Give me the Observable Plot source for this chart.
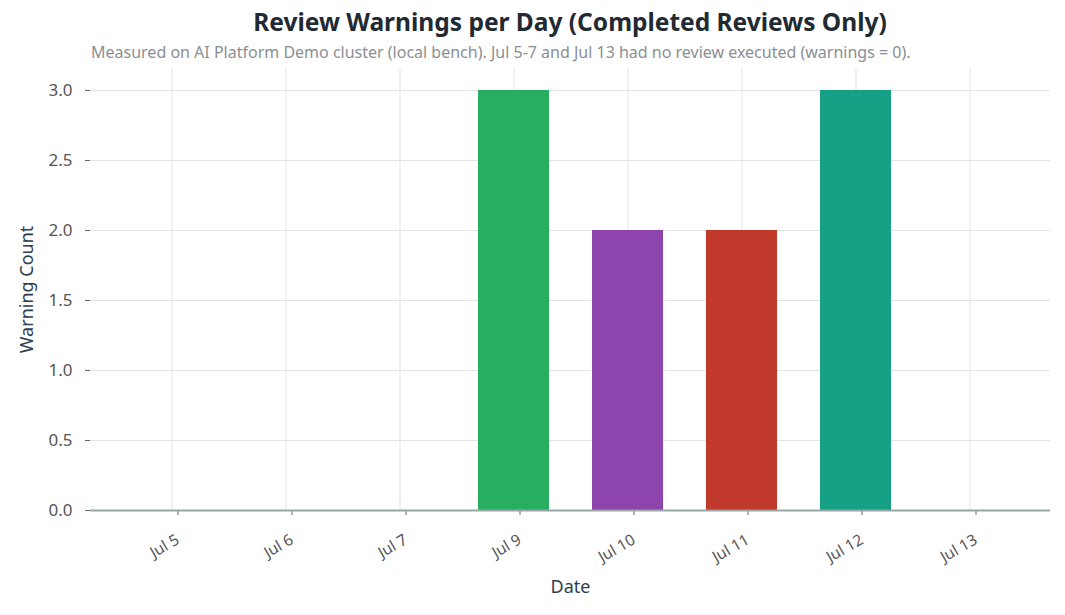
<!DOCTYPE html>
<html>
<head>
<meta charset="utf-8">
<script src="https://cdn.jsdelivr.net/npm/d3@7"></script>
<script src="https://cdn.jsdelivr.net/npm/@observablehq/plot@0.6"></script>
<style>
  html, body { margin: 0; padding: 0; background: #fff; }
  #wrap { position: relative; width: 1065px; height: 615px; font-family: "Noto Sans", sans-serif; }
  #title { position: absolute; left: 90px; width: 960px; top: 8px; text-align: center; font-size: 24.5px; font-weight: bold; color: #1f2a33; line-height: 28px; }
  #subtitle { position: absolute; left: 91px; top: 43px; font-size: 16px; color: #8a8f93; line-height: 19px; white-space: nowrap; }
  #chart { position: absolute; left: 0; top: 0; }
</style>
</head>
<body>
<div id="wrap">
  <div id="chart"></div>
  <div id="title">Review Warnings per Day (Completed Reviews Only)</div>
  <div id="subtitle">Measured on AI Platform Demo cluster (local bench). Jul 5-7 and Jul 13 had no review executed (warnings = 0).</div>
</div>
<script>
const dates = ["Jul 5", "Jul 6", "Jul 7", "Jul 9", "Jul 10", "Jul 11", "Jul 12", "Jul 13"];
const warnings = [0, 0, 0, 3, 2, 2, 3, 0];
const barColors = ["#2980b9", "#e67e22", "#f1c40f", "#27ae60", "#8e44ad", "#c0392b", "#16a085", "#d35400"];
const yTicks = [0, 0.5, 1.0, 1.5, 2.0, 2.5, 3.0];

const data = dates.map((d, i) => ({date: d, value: warnings[i], color: barColors[i]}));

const font = '"Noto Sans", sans-serif';

const chart = Plot.plot({
  width: 1065,
  height: 615,
  marginLeft: 90,
  marginRight: 15,
  marginTop: 68,
  marginBottom: 105,
  style: {fontFamily: font, fontSize: "14px", color: "#555", background: "#fff"},
  x: {domain: dates, paddingInner: 0.38, paddingOuter: 0.4, label: null},
  y: {domain: [0, 3.157], label: null},
  marks: [
    Plot.gridX(dates, {stroke: "#e3e3e3", strokeOpacity: 1, strokeWidth: 1}),
    Plot.gridY(yTicks, {stroke: "#e3e3e3", strokeOpacity: 1, strokeWidth: 1}),
    Plot.barY(data, {x: "date", y: "value", fill: "color"}),
    Plot.axisY(yTicks, {tickFormat: d3.format(".1f"), tickSize: 5, tickPadding: 13, stroke: "#666", fill: "#555", fontSize: 17, label: null}),
    Plot.axisX(dates, {tickSize: 5, tickPadding: 23, tickRotate: -30, stroke: "#666", fill: "#555", fontSize: 15.5, dx: 6, label: null}),
    Plot.ruleX([0], {frameAnchor: "left", y1: 0, y2: 3.157, stroke: "#9aa5a6", strokeWidth: 2}),
    Plot.ruleY([0], {stroke: "#9aa5a6", strokeWidth: 2}),
    Plot.text(["Date"], {frameAnchor: "bottom", dy: 82, fontSize: 18, fill: "#2c3e50"}),
    Plot.text(["Warning Count"], {frameAnchor: "left", dx: -63, rotate: -90, textAnchor: "middle", fontSize: 18, fill: "#2c3e50"})
  ]
});
document.getElementById("chart").appendChild(chart);
</script>
</body>
</html>
